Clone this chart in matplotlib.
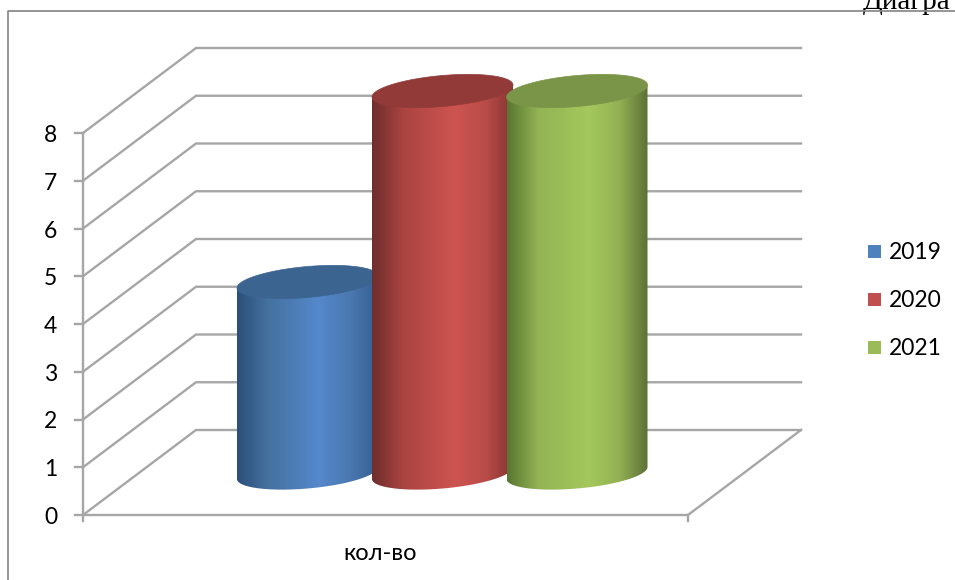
import numpy as np
import matplotlib
matplotlib.use("Agg")
import matplotlib.pyplot as plt
from matplotlib.colors import LinearSegmentedColormap
from matplotlib.patches import Polygon, Rectangle

category = "кол-во"
years = ["2019", "2020", "2021"]
values = [4, 8, 8]
y_ticks = [0, 1, 2, 3, 4, 5, 6, 7, 8]

legend_colors = ["#4f81bd", "#c0504d", "#9bbb59"]
body_colors = [
    ["#2c4f7a", "#45719f", "#5588cc", "#4a78b0", "#365f92"],
    ["#6e2e2d", "#aa4441", "#cd5450", "#b94c49", "#843330"],
    ["#587630", "#93b355", "#a4c85c", "#93b053", "#5c7036"],
]
top_colors = ["#3c6491", "#913a38", "#7a9448"]

plt.rcParams["font.family"] = ["Lato", "Open Sans", "DejaVu Sans"]

# 3d box of the chart, in pixels
X0, X1, Y0 = 83, 688, 515
UNIT = 47.75
DX, DY = 113, -85
GREY = "#a6a6a6"
LW = 1.7
A, B, K = 70.5, 15.5, 0.085


def val_y(v):
    return Y0 - v * UNIT


def ring(cx, cy, t=None):
    # sheared ellipse, the tilted end cap of a cylinder
    if t is None:
        t = np.linspace(0, 2 * np.pi, 200)
    return cx + A * np.cos(t), cy - K * A * np.cos(t) + B * np.sin(t)


fig = plt.figure(figsize=(9.55, 5.8), dpi=100)
ax = fig.add_axes([0, 0, 1, 1])
ax.axis("off")

# outer chart frame
ax.plot([8, 8, 955], [580, 11, 11], color="#8c8c8c", lw=1.3, zorder=3)
ax.text(863, 9, "Диагра", family=["Liberation Serif"], fontsize=21,
        ha="left", va="baseline", color="black", zorder=2)

# walls and floor
for v in y_ticks:
    y = val_y(v)
    ax.plot([X0, X0 + DX, X1 + DX], [y, y + DY, y + DY], color=GREY, lw=LW,
            solid_joinstyle="miter", zorder=1)
    ax.plot([X0 - 8, X0], [y, y], color=GREY, lw=LW, zorder=1)
    ax.text(57, y + 2.5, str(v), fontsize=16.5, ha="right", va="center", color="black")
ax.plot([X0, X0], [val_y(y_ticks[0]) + 6, val_y(y_ticks[-1])], color=GREY, lw=LW, zorder=1)
ax.plot([X0, X1, X1 + DX], [Y0, Y0, Y0 + DY], color=GREY, lw=LW, zorder=1)
ax.plot([X1, X1], [Y0, Y0 + 6], color=GREY, lw=LW, zorder=1)
ax.text((X0 + X1) / 2 - 5, 554, category, fontsize=17, ha="center", va="center")

# cylinders
base_y = 473
centers = [307.5, 442.5, 577]
stops = [0, 0.22, 0.58, 0.8, 1]
for i, v in enumerate(values):
    cx = centers[i]
    top_y = val_y(v) + (base_y - Y0)
    bx, by = ring(cx, base_y, t=np.linspace(np.pi, 0, 100))
    # body outline: down the left side, round the base, up the right side
    px = np.concatenate([[cx - A], bx, [cx + A]])
    py = np.concatenate([[top_y + K * A], by, [top_y - K * A]])
    body = Polygon(np.column_stack([px, py]), closed=True, fc="none", ec="none",
                   transform=ax.transData)
    ax.add_patch(body)
    cmap = LinearSegmentedColormap.from_list("cyl", list(zip(stops, body_colors[i])))
    im = ax.imshow(np.linspace(0, 1, 256)[None, :], cmap=cmap, aspect="auto",
                   extent=(cx - A, cx + A, base_y + 30, top_y - 30),
                   zorder=4 + i, interpolation="bilinear")
    im.set_clip_path(body)
    fx, fy = ring(cx, top_y)
    ax.fill(fx, fy, color=top_colors[i], lw=0.5, zorder=4 + i)

ax.set_xlim(0, 955)
ax.set_ylim(580, 0)

# legend
for name, col, y in zip(years, legend_colors, [251, 299, 347]):
    ax.add_patch(Rectangle((868, y - 6.5), 13, 13, fc=col, ec="none", zorder=3))
    ax.text(888.5, y + 1.5, name, fontsize=16.5, ha="left", va="center")

fig.savefig("out.png", dpi=100)
